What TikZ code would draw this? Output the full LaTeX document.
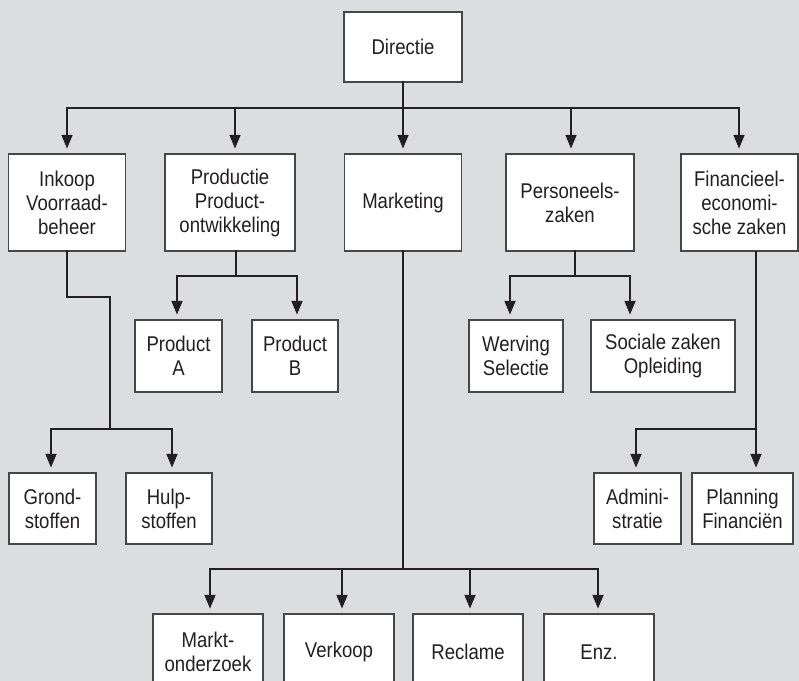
\documentclass[tikz,border=0pt]{standalone}
\usepackage{fontspec}
\setmainfont{Liberation Sans}[FakeStretch=0.87]
\usetikzlibrary{arrows.meta}
\definecolor{bg}{RGB}{220,221,223}
\definecolor{ink}{RGB}{35,31,32}
\definecolor{boxc}{RGB}{70,70,70}
\tikzset{
  x=0.75pt, y=-0.75pt,
  box/.style={draw=boxc, line width=0.8pt, fill=white, align=center, inner sep=0pt,
    font=\fontsize{16}{18}\selectfont, text=ink},
  conn/.style={draw=ink, line width=2pt, line cap=rect, line join=miter},
  arr/.style={draw=ink, line width=2pt, -{Triangle[length=10.5pt,width=8pt]}, shorten >=3.5pt}
}
\begin{document}
\begin{tikzpicture}
\fill[bg] (0,0) rectangle (799,681);
\useasboundingbox (0,0) rectangle (799,681);
% level 0
\node[box, minimum width=88.5pt, minimum height=52.5pt] (dir) at (403,47) {Directie};
% level 1
\node[box, minimum width=87.75pt, minimum height=72.75pt] (ink) at (67,202.5) {Inkoop\\Voorraad-\\beheer};
\node[box, minimum width=97.5pt, minimum height=72.75pt] (pro) at (230,202.5) {Productie\\Product-\\ontwikkeling};
\node[box, minimum width=87.75pt, minimum height=72.75pt] (mkt) at (403,202.5) {Marketing};
\node[box, minimum width=96pt, minimum height=72.75pt] (per) at (570,202.5) {Personeels-\\zaken};
\node[box, minimum width=87.75pt, minimum height=72.75pt] (fin) at (739.5,202.5) {Financieel-\\economi-\\sche zaken};
% level 2
\node[box, minimum width=65.25pt, minimum height=54pt] (pa) at (178.5,356) {Product\\A};
\node[box, minimum width=64.5pt, minimum height=54pt] (pb) at (295,356) {Product\\B};
\node[box, minimum width=70.5pt, minimum height=54pt] (wer) at (516,356) {Werving\\Selectie};
\node[box, minimum width=108pt, minimum height=54pt] (soc) at (663,356) {Sociale zaken\\Opleiding};
\node[box, minimum width=65.25pt, minimum height=53.25pt] (gro) at (52.5,508.5) {Grond-\\stoffen};
\node[box, minimum width=64.5pt, minimum height=53.25pt] (hul) at (169,508.5) {Hulp-\\stoffen};
\node[box, minimum width=65.25pt, minimum height=53.25pt] (adm) at (637.5,508.5) {Admini-\\stratie};
\node[box, minimum width=75.75pt, minimum height=53.25pt] (pla) at (742.5,508.5) {Planning\\Financiën};
% bottom row
\node[box, minimum width=82.5pt, minimum height=57pt] (mo) at (208,652) {Markt-\\onderzoek};
\node[box, minimum width=82.5pt, minimum height=57pt] (ver) at (339,652) {Verkoop};
\node[box, minimum width=82.5pt, minimum height=57pt] (rec) at (468,652) {Reclame};
\node[box, minimum width=82.5pt, minimum height=57pt] (enz) at (599,652) {Enz.};
% coordinates
\coordinate (b0) at (403,108);
\coordinate (bl) at (67,108);
\coordinate (br) at (739,108);
\coordinate (b2) at (235,108);
\coordinate (b4) at (571,108);
% main bus
\draw[conn] (dir.south) -- (b0);
\draw[conn] (bl) -- (br);
\draw[arr] (bl) -- (bl |- ink.north);
\draw[arr] (b2) -- (b2 |- pro.north);
\draw[arr] (b0) -- (b0 |- mkt.north);
\draw[arr] (b4) -- (b4 |- per.north);
\draw[arr] (br) -- (br |- fin.north);
% Inkoop branch
\coordinate (i1) at (67,297);
\coordinate (i2) at (110,297);
\coordinate (i3) at (110,429);
\coordinate (il) at (51,429);
\coordinate (ir) at (172,429);
\draw[conn] (ink.south) -- (i1) -- (i2) -- (i3);
\draw[conn] (il) -- (ir);
\draw[arr] (il) -- (il |- gro.north);
\draw[arr] (ir) -- (ir |- hul.north);
% Productie branch
\coordinate (p0) at (236,251);
\coordinate (p1) at (236,276);
\coordinate (pl) at (177,276);
\coordinate (pr) at (297,276);
\draw[conn] (p0) -- (p1);
\draw[conn] (pl) -- (pr);
\draw[arr] (pl) -- (pl |- pa.north);
\draw[arr] (pr) -- (pr |- pb.north);
% Personeelszaken branch
\coordinate (q0) at (575,251);
\coordinate (q1) at (575,276);
\coordinate (ql) at (510,276);
\coordinate (qr) at (630,276);
\draw[conn] (q0) -- (q1);
\draw[conn] (ql) -- (qr);
\draw[arr] (ql) -- (ql |- wer.north);
\draw[arr] (qr) -- (qr |- soc.north);
% Financieel branch
\coordinate (f0) at (756,251);
\coordinate (f1) at (756,429);
\coordinate (fl) at (636,429);
\draw[arr] (f0) -- (f0 |- pla.north);
\draw[conn] (fl) -- (f1);
\draw[arr] (fl) -- (fl |- adm.north);
% Marketing branch
\coordinate (m1) at (403,569);
\coordinate (ma) at (210,569);
\coordinate (mb) at (342,569);
\coordinate (mc) at (470,569);
\coordinate (md) at (598,569);
\draw[conn] (mkt.south) -- (m1);
\draw[conn] (ma) -- (md);
\draw[arr] (ma) -- (ma |- mo.north);
\draw[arr] (mb) -- (mb |- ver.north);
\draw[arr] (mc) -- (mc |- rec.north);
\draw[arr] (md) -- (md |- enz.north);
\end{tikzpicture}
\end{document}
